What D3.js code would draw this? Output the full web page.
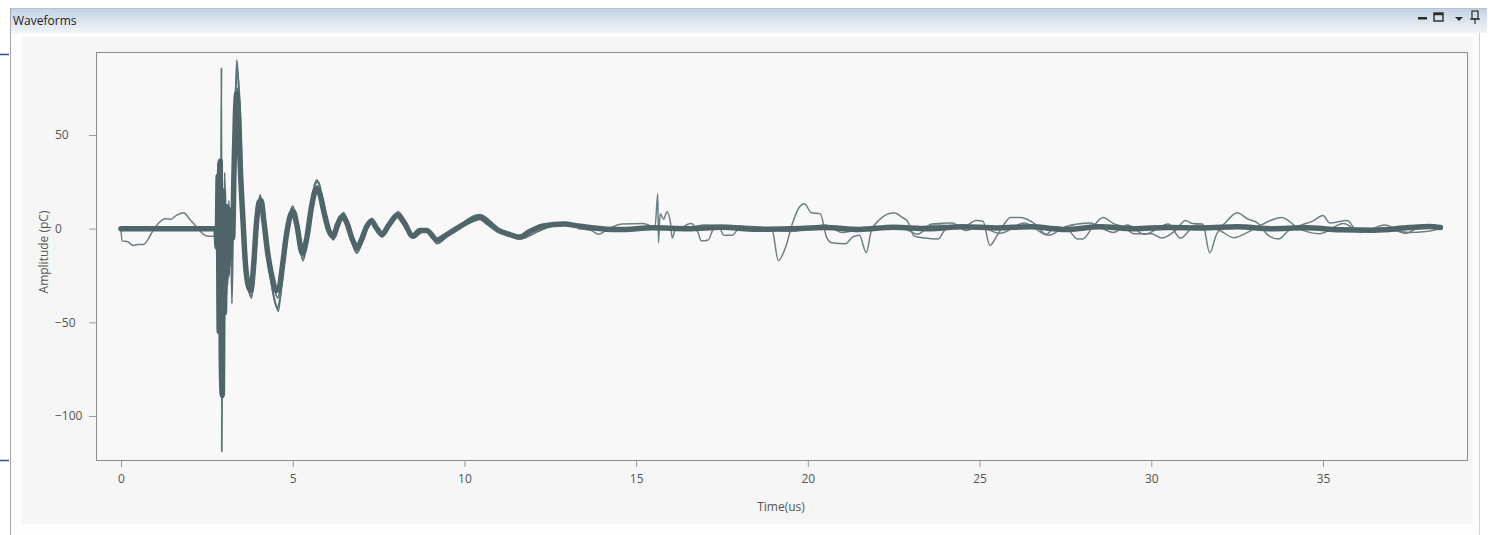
<!DOCTYPE html>
<html>
<head>
<meta charset="utf-8">
<script src="https://cdn.jsdelivr.net/npm/d3@7"></script>
<style>
body { margin: 0; background: #fff; }
svg { display: block; font-family: "Open Sans", "Noto Sans", sans-serif; }
</style>
</head>
<body>
<svg id="chart" width="1489" height="535"></svg>
<script>
// ticks
var xTicks = [0, 5, 10, 15, 20, 25, 30, 35];
var yTicks = [50, 0, -50, -100];

// the bundle of overlapping captures, drawn thick  [time (us), amplitude (pC)]
var bundle = [[0,0],[2.76,0],[2.8,-10],[2.83,28],[2.86,-55],[2.89,36],[2.92,-70],[2.95,-89],[2.98,20],[3.01,-45],
  [3.05,12],[3.09,-25],[3.13,8],[3.17,-15],[3.21,10],[3.25,-5],[3.29,30],[3.33,60],[3.37,72],[3.42,62],[3.48,30],
  [3.55,5],[3.62,-18],[3.7,-30],[3.78,-33],[3.86,-20],[3.94,2],[4.02,14],[4.08,15],[4.16,4],[4.28,-14],[4.4,-26],
  [4.52,-33],[4.6,-32],[4.7,-20],[4.82,-3],[4.95,8],[5.02,9],[5.12,2],[5.28,-13],[5.4,-6],[5.55,12],[5.68,21],
  [5.78,19],[5.92,8],[6.05,-1],[6.18,-4],[6.3,2],[6.45,6.5],[6.58,3],[6.72,-5],[6.87,-10],[7.0,-6],[7.15,1],
  [7.3,4],[7.45,0],[7.6,-3],[7.8,2],[8.05,7],[8.25,3],[8.5,-4],[8.7,-1],[8.9,-1],[9.2,-6],[9.5,-3],[9.9,1.5],
  [10.2,4.5],[10.45,6],[10.7,3],[11.0,-1],[11.3,-3],[11.6,-4.5],[11.9,-1.5],[12.3,1.5],[12.9,2.5],[13.3,1.5],
  [13.7,0.5],[14.5,-0.5],[15.5,0.5],[16.5,0],[17.5,0.8],[18.5,-0.3],[19.5,0],[20.5,0.6],[21.5,-0.4],[22.5,0.8],
  [23.5,0],[24.5,1],[25.5,0.4],[26.5,1],[27.5,-0.5],[28.5,1],[29.5,0],[30.5,0.6],[31.5,0.4],[32.5,1],[33.5,0],
  [34.5,0.5],[35.5,-0.6],[36.5,-0.8],[37.5,0.6],[38.1,1.2],[38.42,0.6]];

// single captures that stand out of the bundle
var spikeTrace = [[2.8,0],[2.85,20],[2.9,-30],[2.925,86],[2.935,-119],[2.96,-10],[3.0,15],[3.06,-20],[3.12,5],
  [3.19,11],[3.23,-40],[3.27,8],[3.32,55],[3.37,90],[3.42,78],[3.5,35],[3.6,-10],[3.72,-32],[3.8,-37],[3.9,-18],
  [4.0,12],[4.05,18],[4.12,10],[4.3,-20],[4.5,-40],[4.58,-44],[4.68,-28],[4.85,0],[5.0,12],[5.12,4],[5.3,-17],
  [5.45,-4],[5.7,26],[5.82,20],[6.0,4],[6.18,-6],[6.47,8.5],[6.87,-13],[7.1,-3],[7.3,5.5],[7.6,-4.5],[8.07,9],
  [8.3,3],[8.5,-5],[8.9,0],[9.2,-8],[9.5,-4],[10.45,7.5],[11.0,0],[11.6,-5.5],[12.2,-1],[12.9,3],[13.5,0]];

var burstTrace = [[2.78,0],[2.82,35],[2.87,-40],[2.91,25],[2.96,-60],[3.02,30],[3.08,-35],[3.14,15],[3.2,-10],
  [3.26,15],[3.33,70],[3.39,84],[3.45,70],[3.55,15],[3.68,-28],[3.78,-36],[3.88,-25],[4.0,8],[4.06,17],[4.15,6],
  [4.35,-25],[4.55,-42],[4.65,-35],[4.8,-8],[4.98,11],[5.1,5],[5.28,-16],[5.45,-2],[5.65,24],[5.75,25],[5.9,12],
  [6.15,-5],[6.45,8],[6.6,2],[6.85,-12],[7.05,-4],[7.25,5],[7.6,-4],[8.0,8],[8.5,-4.5],[8.8,0]];

var burstTrace2 = [[2.79,0],[2.84,-20],[2.88,30],[2.93,-80],[2.97,-30],[3.0,-60],[3.04,5],[3.07,-15],[3.11,-30],
  [3.15,10],[3.18,-20],[3.22,5],[3.28,25],[3.35,66],[3.4,75],[3.46,48],[3.58,-2],[3.74,-34],[3.82,-28],[3.96,5],
  [4.04,16],[4.2,0],[4.45,-30],[4.56,-37],[4.75,-14],[5.0,10],[5.3,-14],[5.7,23],[6.2,-4],[6.5,7],[6.9,-11],
  [7.3,4],[7.6,-3],[8.05,7.5],[8.5,-4],[8.9,0]];

var earlyTrace = [[0,0],[0.03,-6.5],[0.2,-7],[0.35,-9],[0.5,-8.5],[0.65,-8.5],[0.78,-6],[0.93,-1],[1.1,3],
  [1.28,5.3],[1.45,5],[1.6,7],[1.83,8.5],[2.0,5],[2.2,1],[2.4,-3],[2.55,-4],[2.7,-4],[2.78,-2]];

var lateTraceA = [[13.3,0],[13.7,-1],[13.9,-3],[14.2,0],[14.6,2.5],[15.2,2.7],[15.55,1],[15.63,18.6],[15.65,-7.5],
  [15.7,8],[15.8,5],[15.9,9],[16.0,3],[16.05,-5],[16.15,0],[16.5,1],[17.0,0.5],[18.0,-0.5],[18.6,0.5],[18.95,0],
  [19.14,-17],[19.35,-10],[19.55,2.7],[19.75,11.4],[19.9,13.3],[20.1,8.5],[20.36,8],[20.55,-4.8],[20.7,-7.5],
  [21.1,-8],[21.3,-4.5],[21.5,-3.5],[21.7,-12.8],[21.85,-1],[22.1,5],[22.5,8.5],[22.75,6],[22.9,4],[23.1,-4],
  [23.4,-5],[23.8,-5.5],[24.0,-0.5],[24.4,1.5],[25.0,0.5],[25.5,0],[26.0,0]];

var lateTraceB = [[16.3,0],[16.6,2.7],[16.8,-2],[16.9,-6.5],[17.1,-6],[17.25,0],[17.4,1.5],[17.55,-3.5],[17.8,-3.5],
  [18.0,0],[22.8,0],[23.3,1],[23.8,2],[24.1,1.5],[24.5,0.5],[24.9,4.3],[25.1,4],[25.3,-9],[25.5,-4],[25.7,2],
  [25.9,6],[26.2,6],[26.6,2.7],[26.95,-3],[27.2,1],[27.6,-1],[27.85,-5.5],[28.0,-5.5],[28.3,1],[28.6,6],[28.9,2.7],
  [29.2,1],[29.5,-2.7],[30.0,-2.7],[30.3,-5],[30.7,-1],[31.0,4.3],[31.2,2.7],[31.5,2.5],[31.7,-12.8],[31.9,-3],
  [32.2,4],[32.5,8.5],[32.8,5.3],[33.1,3],[33.4,-3.5],[33.7,-5.5],[34.0,-1],[34.3,1.5],[34.7,4],[35.0,7],[35.2,3],
  [35.7,4.3],[36.0,-1],[36.5,0],[37.0,-1],[37.5,-2],[38.0,-1.5],[38.42,0]];

var lateTraceC = [[16.5,0],[17.0,2],[18.5,1],[19.5,-1.5],[20.5,2],[21.0,-2],[22.0,1],[22.8,0],[23.2,-3],[23.6,2.5],
  [24.2,3],[24.6,-1],[25.0,1],[25.6,-2.5],[26.3,3],[27.0,-3.5],[27.5,1],[28.2,3],[28.9,-2],[29.3,2],[29.8,-3],
  [30.5,2.5],[30.85,-5],[31.3,2],[32.0,-1],[32.4,-4.8],[32.8,-2],[33.2,2],[33.8,6],[34.3,0],[34.9,-2.7],[35.6,2.7],
  [36.1,-2],[36.8,2],[37.4,-2.5],[37.9,1.5],[38.42,0.5]];

var thinTraces = [earlyTrace, lateTraceA, lateTraceB, lateTraceC];
var burstTraces = [spikeTrace, burstTrace, burstTrace2];

var svg = d3.select('#chart');

// window chrome
var grad = svg.append('defs').append('linearGradient')
    .attr('id', 'titleGrad').attr('x1', 0).attr('y1', 0).attr('x2', 0).attr('y2', 1);
grad.append('stop').attr('offset', '0%').attr('stop-color', '#c3d1e4');
grad.append('stop').attr('offset', '100%').attr('stop-color', '#f1f4f8');

svg.append('rect').attr('x', 10).attr('y', 8).attr('width', 1477).attr('height', 25).attr('fill', 'url(#titleGrad)');
svg.append('line').attr('x1', 10).attr('x2', 1487).attr('y1', 8.5).attr('y2', 8.5).attr('stroke', '#b9c4d2');
svg.append('rect').attr('x', 10).attr('y', 33).attr('width', 1470).attr('height', 502).attr('fill', '#fdfdfd');
svg.append('rect').attr('x', 22).attr('y', 37).attr('width', 1451).attr('height', 487).attr('fill', '#f6f6f6');
svg.append('line').attr('x1', 10.5).attr('x2', 10.5).attr('y1', 8).attr('y2', 535).attr('stroke', '#a9a9a9');
svg.append('line').attr('x1', 1479.5).attr('x2', 1479.5).attr('y1', 33).attr('y2', 535).attr('stroke', '#d4d4d4');

// stray blue marks at the left window edge
[54, 460].forEach(function (yy) {
  svg.append('line').attr('x1', 0).attr('x2', 9).attr('y1', yy + 0.5).attr('y2', yy + 0.5)
     .attr('stroke', '#2c4d9c').attr('stroke-width', 1.5);
});

svg.append('text').attr('x', 13).attr('y', 25).attr('font-size', 12).attr('fill', '#222').text('Waveforms');

// title bar buttons
var ic = svg.append('g').attr('fill', '#2a2a2a').attr('stroke', '#2a2a2a');
ic.append('rect').attr('x', 1418).attr('y', 17).attr('width', 9).attr('height', 2.5).attr('stroke', 'none');
ic.append('rect').attr('x', 1434).attr('y', 13).attr('width', 9).attr('height', 8).attr('fill', 'none').attr('stroke-width', 1.4);
ic.append('rect').attr('x', 1434).attr('y', 13).attr('width', 9).attr('height', 2.2).attr('stroke', 'none');
ic.append('path').attr('d', 'M1455,17 L1463,17 L1459,21 Z').attr('stroke', 'none');
ic.append('rect').attr('x', 1472).attr('y', 11).attr('width', 6).attr('height', 8).attr('fill', 'none').attr('stroke-width', 1.2);
ic.append('line').attr('x1', 1470).attr('x2', 1480).attr('y1', 19).attr('y2', 19).attr('stroke-width', 1.2);
ic.append('line').attr('x1', 1475).attr('x2', 1475).attr('y1', 19).attr('y2', 24).attr('stroke-width', 1.2);

// plot area
var x = d3.scaleLinear().domain([0, 35]).range([121, 1323]);
var y = d3.scaleLinear().domain([-100, 50]).range([416, 135]);

svg.append('rect').attr('x', 96.5).attr('y', 52.5).attr('width', 1371).attr('height', 408)
   .attr('fill', '#f8f8f8').attr('stroke', '#8c8c8c');

var line = d3.line().x(d => x(d[0])).y(d => y(d[1])).curve(d3.curveMonotoneX);

// thin outlier captures
svg.append('g').selectAll('path')
   .data(thinTraces)
   .enter()
   .append('path')
   .attr('d', line)
   .attr('fill', 'none')
   .attr('stroke', '#6c7f83')
   .attr('stroke-width', 1.5)
   .attr('stroke-linejoin', 'round');

svg.append('g').selectAll('path')
   .data(burstTraces)
   .enter()
   .append('path')
   .attr('d', line)
   .attr('fill', 'none')
   .attr('stroke', '#5d7276')
   .attr('stroke-width', 1.8)
   .attr('stroke-linejoin', 'round');

// dense core of the bundle
svg.append('path')
   .datum(bundle)
   .attr('d', line)
   .attr('fill', 'none')
   .attr('stroke', '#506569')
   .attr('stroke-width', 5.5)
   .attr('stroke-linejoin', 'round')
   .attr('stroke-linecap', 'round');

// axes
var xAxis = svg.append('g')
   .attr('transform', 'translate(0,461)')
   .call(d3.axisBottom(x).tickValues(xTicks).tickSize(6).tickFormat(d3.format('d')));
xAxis.selectAll('text').attr('y', 13).attr('font-size', 12).attr('fill', '#555')
     .attr('font-family', '"Open Sans", sans-serif');

var yAxis = svg.append('g')
   .attr('transform', 'translate(96,0)')
   .call(d3.axisLeft(y).tickValues(yTicks).tickSize(7).tickFormat(d3.format('d')));
yAxis.selectAll('text').attr('x', -41).attr('text-anchor', 'start').attr('font-size', 12).attr('fill', '#555')
     .attr('font-family', '"Open Sans", sans-serif');

[xAxis, yAxis].forEach(function (g) {
  g.select('.domain').remove();
  g.selectAll('.tick line').attr('stroke', '#9a9a9a');
});

svg.append('text').attr('x', 781).attr('y', 511).attr('text-anchor', 'middle')
   .attr('font-size', 12).attr('fill', '#555').text('Time(us)');
svg.append('text').attr('transform', 'translate(48,252) rotate(-90)').attr('text-anchor', 'middle')
   .attr('font-size', 12).attr('fill', '#555').text('Amplitude (pC)');
</script>
</body>
</html>
